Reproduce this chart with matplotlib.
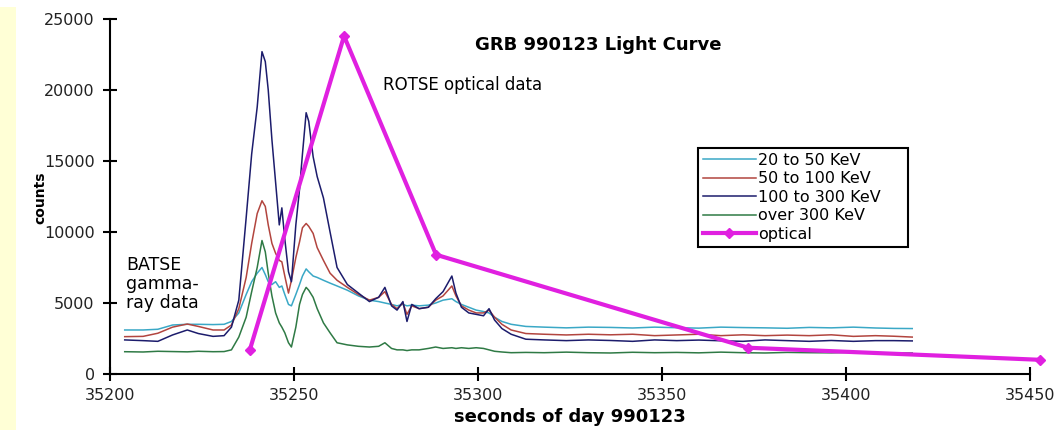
"""GRB 990123 light curve: BATSE gamma-ray channels plus ROTSE optical points."""

import matplotlib
matplotlib.use("Agg")
import matplotlib.pyplot as plt
from matplotlib.patches import Rectangle

# BATSE sample times (seconds of day 990123)
times = [35204, 35209, 35213, 35217, 35221, 35224, 35228, 35231, 35233, 35235,
         35237, 35238.5, 35240, 35241.3, 35242.2, 35243, 35244, 35245, 35246, 35246.7,
         35247.5, 35248.5, 35249.3, 35250.5, 35251.5, 35252.3, 35253.3, 35254, 35255.2, 35256.3,
         35258, 35259.8, 35261.7, 35264.5, 35267.5, 35270.5, 35273, 35274.7, 35276.5, 35278,
         35279.6, 35280.7, 35282, 35284, 35286.5, 35288.5, 35290.5, 35292.9, 35294, 35295.5,
         35297.5, 35299.5, 35301.5, 35303, 35304.5, 35306.5, 35309, 35313, 35318, 35324,
         35330, 35336, 35342, 35348, 35354, 35360, 35366, 35372, 35378, 35384,
         35390, 35396, 35402, 35408, 35413, 35418]

kev_20_50 = [3100, 3100, 3150, 3450, 3500, 3500, 3480, 3500, 3700, 4300,
             5600, 6500, 7100, 7500, 7000, 6500, 6300, 6500, 6100, 6200,
             5600, 4900, 4800, 5600, 6300, 6900, 7400, 7200, 6900, 6800,
             6600, 6400, 6200, 5900, 5500, 5200, 5100, 5000, 4900, 4800,
             4900, 4800, 4850, 4800, 4850, 5000, 5200, 5300, 5100, 4900,
             4700, 4500, 4400, 4300, 4000, 3700, 3500, 3350, 3300, 3250,
             3300, 3280, 3240, 3300, 3260, 3230, 3300, 3270, 3250, 3220,
             3280, 3250, 3300, 3240, 3210, 3200]

kev_50_100 = [2630, 2650, 2870, 3300, 3520, 3350, 3100, 3100, 3450, 4600,
              6800, 9200, 11300, 12200, 11800, 10500, 9200, 8500, 8000, 7900,
              6900, 5700, 6600, 8200, 9300, 10300, 10600, 10400, 9900, 8900,
              8000, 7100, 6600, 6100, 5600, 5200, 5400, 5800, 4900, 4600,
              5000, 4200, 4800, 4600, 4700, 5200, 5500, 6200, 5500, 4800,
              4500, 4300, 4300, 4500, 4000, 3500, 3100, 2850, 2800, 2750,
              2800, 2760, 2800, 2700, 2750, 2800, 2700, 2760, 2700, 2740,
              2700, 2760, 2650, 2700, 2660, 2600]

kev_100_300 = [2400, 2350, 2300, 2750, 3100, 2850, 2650, 2700, 3300, 5200,
               11000, 15500, 18800, 22700, 22000, 20000, 16500, 13500, 10500, 11700,
               9500, 7200, 6500, 10500, 13000, 15500, 18400, 17800, 15300, 13900,
               12400, 10000, 7500, 6300, 5700, 5100, 5400, 6100, 4800, 4500,
               5100, 3700, 4900, 4600, 4700, 5300, 5800, 6900, 5700, 4700,
               4300, 4200, 4100, 4600, 3800, 3200, 2800, 2450, 2400, 2350,
               2400, 2360, 2300, 2400, 2350, 2390, 2340, 2300, 2400, 2350,
               2300, 2360, 2300, 2350, 2350, 2330]

kev_over_300 = [1570, 1550, 1600, 1580, 1560, 1600, 1570, 1580, 1700, 2600,
                4000, 5800, 7500, 9400, 8600, 7100, 5500, 4300, 3600, 3300,
                2900, 2200, 1900, 3300, 4900, 5600, 6100, 5900, 5400, 4600,
                3600, 2900, 2200, 2050, 1950, 1900, 1950, 2200, 1800, 1700,
                1700, 1650, 1700, 1700, 1800, 1900, 1800, 1850, 1800, 1850,
                1800, 1850, 1800, 1700, 1600, 1550, 1500, 1520, 1500, 1540,
                1500, 1480, 1530, 1500, 1520, 1490, 1540, 1500, 1480, 1520,
                1500, 1490, 1530, 1500, 1480, 1480]

# ROTSE optical points
optical_t = [35238, 35263.6, 35288.6, 35373.4, 35452.7]
optical_counts = [1700, 23800, 8400, 1850, 1000]

series = [
    ("20 to 50 KeV", kev_20_50, "#3aa8c6"),
    ("50 to 100 KeV", kev_50_100, "#b2453f"),
    ("100 to 300 KeV", kev_100_300, "#1c1c6c"),
    ("over 300 KeV", kev_over_300, "#2f7a45"),
]

W, H = 1059, 430
fig = plt.figure(figsize=(W / 100, H / 100), dpi=100)
fig.patch.set_facecolor("white")
fig.patches.append(Rectangle((0, 0), 16 / W, 1 - 7 / H, transform=fig.transFigure,
                             facecolor="#ffffd6", edgecolor="none", zorder=0))

ax = fig.add_axes([110 / W, 1 - 374 / H, 920 / W, 355 / H])
ax.set_facecolor("white")

for label, vals, color in series:
    ax.plot(times, vals, color=color, lw=1.1, label=label)

ax.plot(optical_t, optical_counts, color="#e020e0", lw=3, marker="D", ms=5,
        label="optical", clip_on=False, zorder=5)

ax.set_xlim(35200, 35450)
ax.set_ylim(0, 25000)
ax.set_xticks([35200, 35250, 35300, 35350, 35400, 35450])
ax.set_yticks([0, 5000, 10000, 15000, 20000, 25000])
for s in ("top", "right"):
    ax.spines[s].set_visible(False)
for s in ("left", "bottom"):
    ax.spines[s].set_linewidth(1.5)
ax.tick_params(direction="inout", length=10, width=1.5, labelsize=11.5,
               labelcolor="#222222")
ax.tick_params(axis="y", pad=6)
ax.tick_params(axis="x", pad=5)

ax.set_xlabel("seconds of day 990123", fontsize=13, fontweight="bold", labelpad=4)
fig.text(40 / W, 1 - 198 / H, "counts", rotation=90, fontsize=10, fontweight="bold",
         ha="center", va="center")

fig.text(598 / W, 1 - 45 / H, "GRB 990123 Light Curve", fontsize=13,
         fontweight="bold", ha="center", va="center")
fig.text(383 / W, 1 - 85 / H, "ROTSE optical data", fontsize=12, ha="left", va="center")
fig.text(126 / W, 1 - 284 / H, "BATSE\ngamma-\nray data", fontsize=12.5, ha="left",
         va="center", linespacing=1.05)

leg = ax.legend(loc="upper left",
                bbox_to_anchor=(698 / W, 1 - 247 / H, 210 / W, 99 / H),
                bbox_transform=fig.transFigure, mode="expand", borderaxespad=0,
                fontsize=11.5, handlelength=3.3, labelspacing=0.22, handletextpad=0.15,
                borderpad=0.3, fancybox=False, framealpha=1, edgecolor="black")
leg.get_frame().set_linewidth(1.5)

fig.savefig("out.png", dpi=100)
